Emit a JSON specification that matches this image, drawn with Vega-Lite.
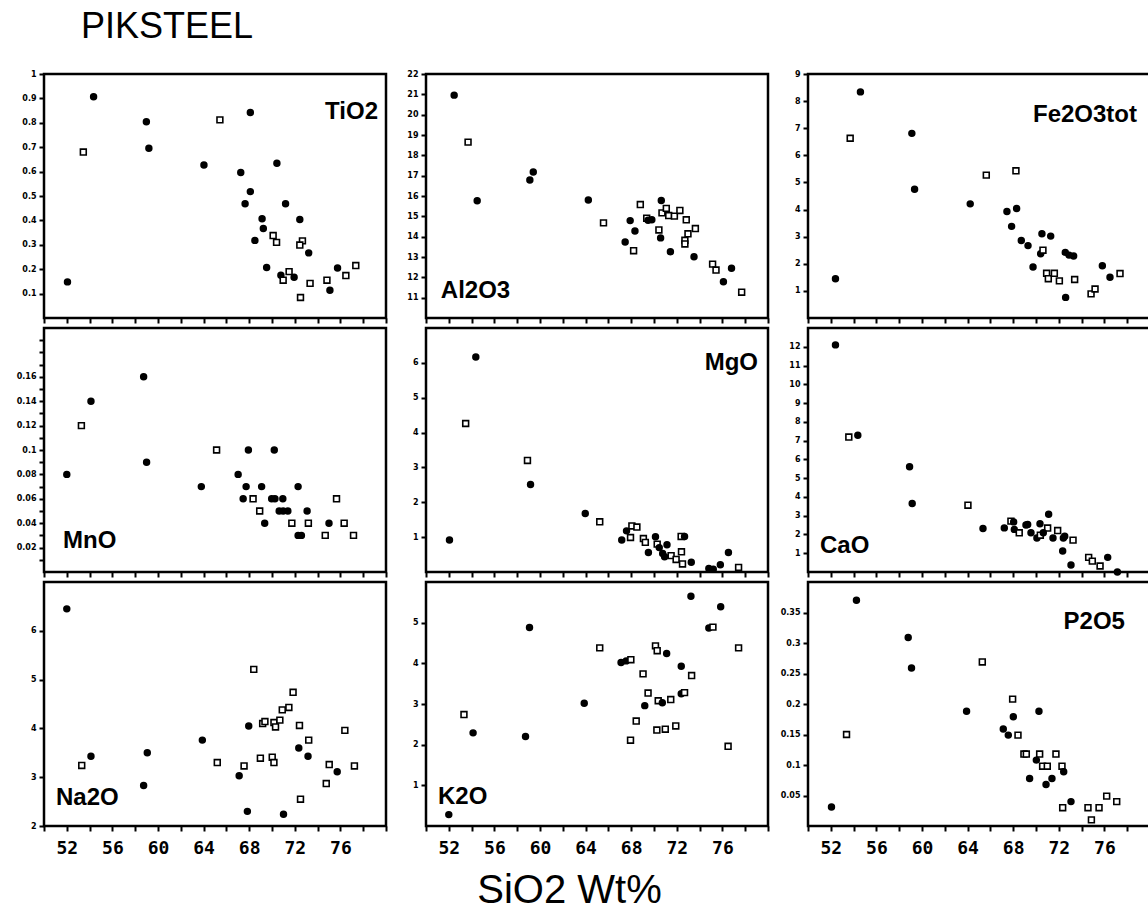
{
  "$schema": "https://vega.github.io/schema/vega-lite/v6.json",
  "background": "white",
  "padding": {"left": 15, "top": 7, "right": 0, "bottom": 0},
  "datasets": {
    "TiO2": [
      {"SiO2":52.06,"wt":0.148,"sym":"f"},{"SiO2":53.45,"wt":0.68,"sym":"o"},{"SiO2":54.35,"wt":0.907,"sym":"f"},{"SiO2":58.98,"wt":0.804,"sym":"f"},{"SiO2":59.2,"wt":0.696,"sym":"f"},{"SiO2":64.03,"wt":0.627,"sym":"f"},{"SiO2":65.43,"wt":0.812,"sym":"o"},{"SiO2":68.1,"wt":0.842,"sym":"f"},{"SiO2":67.26,"wt":0.596,"sym":"f"},{"SiO2":68.1,"wt":0.518,"sym":"f"},{"SiO2":67.64,"wt":0.468,"sym":"f"},{"SiO2":70.43,"wt":0.634,"sym":"f"},{"SiO2":71.19,"wt":0.468,"sym":"f"},{"SiO2":69.13,"wt":0.407,"sym":"f"},{"SiO2":69.24,"wt":0.367,"sym":"f"},{"SiO2":68.5,"wt":0.318,"sym":"f"},{"SiO2":70.1,"wt":0.338,"sym":"o"},{"SiO2":70.4,"wt":0.31,"sym":"o"},{"SiO2":69.53,"wt":0.207,"sym":"f"},{"SiO2":72.44,"wt":0.404,"sym":"f"},{"SiO2":72.67,"wt":0.316,"sym":"o"},{"SiO2":72.44,"wt":0.299,"sym":"o"},{"SiO2":73.22,"wt":0.267,"sym":"f"},{"SiO2":70.78,"wt":0.175,"sym":"f"},{"SiO2":70.98,"wt":0.155,"sym":"o"},{"SiO2":71.5,"wt":0.19,"sym":"o"},{"SiO2":71.94,"wt":0.167,"sym":"f"},{"SiO2":72.5,"wt":0.084,"sym":"o"},{"SiO2":73.34,"wt":0.142,"sym":"o"},{"SiO2":74.82,"wt":0.155,"sym":"o"},{"SiO2":75.08,"wt":0.114,"sym":"f"},{"SiO2":75.75,"wt":0.205,"sym":"f"},{"SiO2":76.48,"wt":0.174,"sym":"o"},{"SiO2":77.35,"wt":0.215,"sym":"o"}
    ],
    "Al2O3": [
      {"SiO2":52.47,"wt":20.96,"sym":"f"},{"SiO2":53.69,"wt":18.65,"sym":"o"},{"SiO2":54.49,"wt":15.77,"sym":"f"},{"SiO2":59.11,"wt":16.79,"sym":"f"},{"SiO2":59.41,"wt":17.18,"sym":"f"},{"SiO2":64.24,"wt":15.8,"sym":"f"},{"SiO2":65.57,"wt":14.68,"sym":"o"},{"SiO2":68.8,"wt":15.58,"sym":"o"},{"SiO2":70.64,"wt":15.78,"sym":"f"},{"SiO2":67.91,"wt":14.79,"sym":"f"},{"SiO2":68.33,"wt":14.28,"sym":"f"},{"SiO2":67.47,"wt":13.74,"sym":"f"},{"SiO2":68.21,"wt":13.31,"sym":"o"},{"SiO2":69.36,"wt":14.91,"sym":"o"},{"SiO2":69.48,"wt":14.81,"sym":"f"},{"SiO2":69.81,"wt":14.83,"sym":"f"},{"SiO2":70.7,"wt":15.17,"sym":"o"},{"SiO2":71.08,"wt":15.39,"sym":"o"},{"SiO2":71.29,"wt":15.04,"sym":"o"},{"SiO2":71.79,"wt":15.01,"sym":"o"},{"SiO2":72.27,"wt":15.29,"sym":"o"},{"SiO2":72.83,"wt":14.83,"sym":"o"},{"SiO2":70.43,"wt":14.33,"sym":"o"},{"SiO2":70.58,"wt":13.94,"sym":"f"},{"SiO2":71.44,"wt":13.26,"sym":"f"},{"SiO2":72.98,"wt":14.14,"sym":"o"},{"SiO2":72.71,"wt":13.82,"sym":"o"},{"SiO2":72.71,"wt":13.64,"sym":"o"},{"SiO2":73.63,"wt":14.4,"sym":"o"},{"SiO2":73.51,"wt":13.01,"sym":"f"},{"SiO2":75.14,"wt":12.65,"sym":"o"},{"SiO2":75.44,"wt":12.36,"sym":"o"},{"SiO2":76.8,"wt":12.45,"sym":"f"},{"SiO2":76.09,"wt":11.78,"sym":"f"},{"SiO2":77.69,"wt":11.27,"sym":"o"}
    ],
    "Fe2O3tot": [
      {"SiO2":52.41,"wt":1.45,"sym":"f"},{"SiO2":53.7,"wt":6.63,"sym":"o"},{"SiO2":54.6,"wt":8.34,"sym":"f"},{"SiO2":59.11,"wt":6.81,"sym":"f"},{"SiO2":59.35,"wt":4.75,"sym":"f"},{"SiO2":64.23,"wt":4.21,"sym":"f"},{"SiO2":65.64,"wt":5.27,"sym":"o"},{"SiO2":68.24,"wt":5.43,"sym":"o"},{"SiO2":67.45,"wt":3.93,"sym":"f"},{"SiO2":68.3,"wt":4.04,"sym":"f"},{"SiO2":67.86,"wt":3.38,"sym":"f"},{"SiO2":68.71,"wt":2.86,"sym":"f"},{"SiO2":69.3,"wt":2.67,"sym":"f"},{"SiO2":70.52,"wt":3.11,"sym":"f"},{"SiO2":71.29,"wt":3.02,"sym":"f"},{"SiO2":70.41,"wt":2.37,"sym":"f"},{"SiO2":70.61,"wt":2.5,"sym":"o"},{"SiO2":69.74,"wt":1.88,"sym":"f"},{"SiO2":70.93,"wt":1.65,"sym":"o"},{"SiO2":71.08,"wt":1.45,"sym":"o"},{"SiO2":71.61,"wt":1.65,"sym":"o"},{"SiO2":72.05,"wt":1.37,"sym":"o"},{"SiO2":72.57,"wt":2.42,"sym":"f"},{"SiO2":72.9,"wt":2.32,"sym":"f"},{"SiO2":73.3,"wt":2.29,"sym":"f"},{"SiO2":73.39,"wt":1.42,"sym":"o"},{"SiO2":72.6,"wt":0.76,"sym":"f"},{"SiO2":74.83,"wt":0.89,"sym":"o"},{"SiO2":75.18,"wt":1.07,"sym":"o"},{"SiO2":75.82,"wt":1.93,"sym":"f"},{"SiO2":76.49,"wt":1.5,"sym":"f"},{"SiO2":77.37,"wt":1.64,"sym":"o"}
    ],
    "MnO": [
      {"SiO2":52.0,"wt":0.08,"sym":"f"},{"SiO2":53.28,"wt":0.12,"sym":"o"},{"SiO2":54.12,"wt":0.14,"sym":"f"},{"SiO2":58.74,"wt":0.16,"sym":"f"},{"SiO2":59.0,"wt":0.09,"sym":"f"},{"SiO2":63.8,"wt":0.07,"sym":"f"},{"SiO2":65.14,"wt":0.1,"sym":"o"},{"SiO2":67.93,"wt":0.1,"sym":"f"},{"SiO2":70.2,"wt":0.1,"sym":"f"},{"SiO2":67.03,"wt":0.08,"sym":"f"},{"SiO2":67.73,"wt":0.07,"sym":"f"},{"SiO2":69.09,"wt":0.07,"sym":"f"},{"SiO2":72.29,"wt":0.07,"sym":"f"},{"SiO2":67.47,"wt":0.06,"sym":"f"},{"SiO2":68.34,"wt":0.06,"sym":"o"},{"SiO2":69.97,"wt":0.06,"sym":"f"},{"SiO2":70.26,"wt":0.06,"sym":"f"},{"SiO2":70.95,"wt":0.06,"sym":"f"},{"SiO2":75.66,"wt":0.06,"sym":"o"},{"SiO2":68.92,"wt":0.05,"sym":"o"},{"SiO2":70.63,"wt":0.05,"sym":"f"},{"SiO2":70.98,"wt":0.05,"sym":"f"},{"SiO2":71.39,"wt":0.05,"sym":"f"},{"SiO2":73.08,"wt":0.05,"sym":"f"},{"SiO2":69.36,"wt":0.04,"sym":"f"},{"SiO2":71.74,"wt":0.04,"sym":"o"},{"SiO2":73.19,"wt":0.04,"sym":"o"},{"SiO2":75.0,"wt":0.04,"sym":"f"},{"SiO2":76.33,"wt":0.04,"sym":"o"},{"SiO2":72.29,"wt":0.03,"sym":"f"},{"SiO2":72.58,"wt":0.03,"sym":"f"},{"SiO2":74.67,"wt":0.03,"sym":"o"},{"SiO2":77.15,"wt":0.03,"sym":"o"}
    ],
    "MgO": [
      {"SiO2":52.06,"wt":0.92,"sym":"f"},{"SiO2":53.48,"wt":4.26,"sym":"o"},{"SiO2":54.37,"wt":6.17,"sym":"f"},{"SiO2":58.9,"wt":3.2,"sym":"o"},{"SiO2":59.17,"wt":2.51,"sym":"f"},{"SiO2":63.97,"wt":1.68,"sym":"f"},{"SiO2":65.24,"wt":1.44,"sym":"o"},{"SiO2":67.17,"wt":0.92,"sym":"f"},{"SiO2":67.59,"wt":1.18,"sym":"f"},{"SiO2":67.94,"wt":0.99,"sym":"o"},{"SiO2":68.06,"wt":1.32,"sym":"o"},{"SiO2":68.5,"wt":1.29,"sym":"o"},{"SiO2":69.07,"wt":0.96,"sym":"o"},{"SiO2":69.24,"wt":0.85,"sym":"o"},{"SiO2":69.51,"wt":0.56,"sym":"f"},{"SiO2":70.13,"wt":1.01,"sym":"f"},{"SiO2":70.28,"wt":0.8,"sym":"o"},{"SiO2":70.46,"wt":0.7,"sym":"f"},{"SiO2":70.76,"wt":0.53,"sym":"f"},{"SiO2":70.93,"wt":0.44,"sym":"f"},{"SiO2":71.14,"wt":0.78,"sym":"f"},{"SiO2":71.5,"wt":0.47,"sym":"o"},{"SiO2":71.94,"wt":0.36,"sym":"o"},{"SiO2":72.38,"wt":1.02,"sym":"o"},{"SiO2":72.68,"wt":1.02,"sym":"f"},{"SiO2":72.41,"wt":0.58,"sym":"o"},{"SiO2":72.5,"wt":0.23,"sym":"o"},{"SiO2":73.27,"wt":0.28,"sym":"f"},{"SiO2":74.81,"wt":0.1,"sym":"f"},{"SiO2":75.2,"wt":0.08,"sym":"f"},{"SiO2":75.82,"wt":0.21,"sym":"f"},{"SiO2":76.53,"wt":0.56,"sym":"f"},{"SiO2":77.42,"wt":0.13,"sym":"o"}
    ],
    "CaO": [
      {"SiO2":52.41,"wt":12.1,"sym":"f"},{"SiO2":53.58,"wt":7.19,"sym":"o"},{"SiO2":54.37,"wt":7.29,"sym":"f"},{"SiO2":58.91,"wt":5.61,"sym":"f"},{"SiO2":59.14,"wt":3.65,"sym":"f"},{"SiO2":64.03,"wt":3.56,"sym":"o"},{"SiO2":65.35,"wt":2.32,"sym":"f"},{"SiO2":67.22,"wt":2.35,"sym":"f"},{"SiO2":67.8,"wt":2.71,"sym":"o"},{"SiO2":68.04,"wt":2.67,"sym":"f"},{"SiO2":68.1,"wt":2.27,"sym":"f"},{"SiO2":68.53,"wt":2.09,"sym":"o"},{"SiO2":69.12,"wt":2.5,"sym":"f"},{"SiO2":69.27,"wt":2.53,"sym":"f"},{"SiO2":69.56,"wt":2.09,"sym":"f"},{"SiO2":70.35,"wt":2.57,"sym":"f"},{"SiO2":71.11,"wt":3.08,"sym":"f"},{"SiO2":71.02,"wt":2.34,"sym":"o"},{"SiO2":70.08,"wt":1.81,"sym":"f"},{"SiO2":70.38,"wt":1.96,"sym":"o"},{"SiO2":70.64,"wt":2.09,"sym":"f"},{"SiO2":71.49,"wt":1.81,"sym":"f"},{"SiO2":71.9,"wt":2.21,"sym":"o"},{"SiO2":72.4,"wt":1.81,"sym":"f"},{"SiO2":72.52,"wt":1.91,"sym":"f"},{"SiO2":73.25,"wt":1.7,"sym":"o"},{"SiO2":72.34,"wt":1.12,"sym":"f"},{"SiO2":73.07,"wt":0.37,"sym":"f"},{"SiO2":74.62,"wt":0.78,"sym":"o"},{"SiO2":74.94,"wt":0.58,"sym":"o"},{"SiO2":75.62,"wt":0.32,"sym":"o"},{"SiO2":76.29,"wt":0.78,"sym":"f"},{"SiO2":77.14,"wt":0.0,"sym":"f"}
    ],
    "Na2O": [
      {"SiO2":52.0,"wt":6.45,"sym":"f"},{"SiO2":53.31,"wt":3.24,"sym":"o"},{"SiO2":54.12,"wt":3.43,"sym":"f"},{"SiO2":58.74,"wt":2.83,"sym":"f"},{"SiO2":59.06,"wt":3.5,"sym":"f"},{"SiO2":63.89,"wt":3.76,"sym":"f"},{"SiO2":65.2,"wt":3.3,"sym":"o"},{"SiO2":67.12,"wt":3.03,"sym":"f"},{"SiO2":67.55,"wt":3.23,"sym":"o"},{"SiO2":67.84,"wt":2.3,"sym":"f"},{"SiO2":67.96,"wt":4.05,"sym":"f"},{"SiO2":68.4,"wt":5.21,"sym":"o"},{"SiO2":68.98,"wt":3.39,"sym":"o"},{"SiO2":69.18,"wt":4.1,"sym":"o"},{"SiO2":69.38,"wt":4.14,"sym":"o"},{"SiO2":70.02,"wt":3.41,"sym":"o"},{"SiO2":70.17,"wt":3.3,"sym":"o"},{"SiO2":70.17,"wt":4.12,"sym":"o"},{"SiO2":70.31,"wt":4.03,"sym":"o"},{"SiO2":70.69,"wt":4.17,"sym":"o"},{"SiO2":70.9,"wt":4.38,"sym":"o"},{"SiO2":71.48,"wt":4.43,"sym":"o"},{"SiO2":71.85,"wt":4.74,"sym":"o"},{"SiO2":71.01,"wt":2.24,"sym":"f"},{"SiO2":72.41,"wt":4.06,"sym":"o"},{"SiO2":72.35,"wt":3.6,"sym":"f"},{"SiO2":72.5,"wt":2.55,"sym":"o"},{"SiO2":73.22,"wt":3.76,"sym":"o"},{"SiO2":73.16,"wt":3.43,"sym":"f"},{"SiO2":74.76,"wt":2.87,"sym":"o"},{"SiO2":75.02,"wt":3.26,"sym":"o"},{"SiO2":75.72,"wt":3.11,"sym":"f"},{"SiO2":76.39,"wt":3.96,"sym":"o"},{"SiO2":77.23,"wt":3.23,"sym":"o"}
    ],
    "K2O": [
      {"SiO2":52.0,"wt":0.28,"sym":"f"},{"SiO2":53.33,"wt":2.74,"sym":"o"},{"SiO2":54.13,"wt":2.29,"sym":"f"},{"SiO2":58.73,"wt":2.2,"sym":"f"},{"SiO2":59.08,"wt":4.88,"sym":"f"},{"SiO2":63.88,"wt":3.02,"sym":"f"},{"SiO2":65.24,"wt":4.38,"sym":"o"},{"SiO2":67.11,"wt":4.02,"sym":"f"},{"SiO2":67.56,"wt":4.06,"sym":"f"},{"SiO2":67.97,"wt":4.09,"sym":"o"},{"SiO2":67.94,"wt":2.11,"sym":"o"},{"SiO2":68.44,"wt":2.58,"sym":"o"},{"SiO2":69.04,"wt":3.74,"sym":"o"},{"SiO2":69.19,"wt":2.96,"sym":"f"},{"SiO2":69.48,"wt":3.27,"sym":"o"},{"SiO2":70.13,"wt":4.43,"sym":"o"},{"SiO2":70.28,"wt":4.31,"sym":"o"},{"SiO2":70.25,"wt":2.36,"sym":"o"},{"SiO2":70.37,"wt":3.08,"sym":"o"},{"SiO2":70.73,"wt":3.03,"sym":"f"},{"SiO2":70.99,"wt":2.38,"sym":"o"},{"SiO2":71.11,"wt":4.24,"sym":"f"},{"SiO2":71.47,"wt":3.11,"sym":"o"},{"SiO2":71.91,"wt":2.46,"sym":"o"},{"SiO2":72.39,"wt":3.93,"sym":"f"},{"SiO2":72.39,"wt":3.25,"sym":"f"},{"SiO2":72.68,"wt":3.28,"sym":"o"},{"SiO2":73.3,"wt":3.7,"sym":"o"},{"SiO2":73.24,"wt":5.65,"sym":"f"},{"SiO2":74.81,"wt":4.87,"sym":"f"},{"SiO2":75.17,"wt":4.89,"sym":"o"},{"SiO2":75.85,"wt":5.39,"sym":"f"},{"SiO2":76.5,"wt":1.96,"sym":"o"},{"SiO2":77.42,"wt":4.38,"sym":"o"}
    ],
    "P2O5": [
      {"SiO2":52.06,"wt":0.031,"sym":"f"},{"SiO2":53.38,"wt":0.15,"sym":"o"},{"SiO2":54.25,"wt":0.37,"sym":"f"},{"SiO2":58.79,"wt":0.309,"sym":"f"},{"SiO2":59.08,"wt":0.259,"sym":"f"},{"SiO2":65.29,"wt":0.269,"sym":"o"},{"SiO2":63.91,"wt":0.188,"sym":"f"},{"SiO2":67.95,"wt":0.208,"sym":"o"},{"SiO2":68.01,"wt":0.179,"sym":"f"},{"SiO2":67.13,"wt":0.159,"sym":"f"},{"SiO2":67.57,"wt":0.149,"sym":"f"},{"SiO2":68.42,"wt":0.149,"sym":"o"},{"SiO2":70.26,"wt":0.188,"sym":"f"},{"SiO2":68.94,"wt":0.118,"sym":"o"},{"SiO2":69.15,"wt":0.118,"sym":"o"},{"SiO2":70.32,"wt":0.118,"sym":"o"},{"SiO2":71.75,"wt":0.118,"sym":"o"},{"SiO2":70.03,"wt":0.108,"sym":"f"},{"SiO2":70.58,"wt":0.098,"sym":"o"},{"SiO2":70.99,"wt":0.098,"sym":"o"},{"SiO2":72.28,"wt":0.098,"sym":"o"},{"SiO2":72.43,"wt":0.089,"sym":"f"},{"SiO2":69.44,"wt":0.078,"sym":"f"},{"SiO2":71.4,"wt":0.078,"sym":"f"},{"SiO2":70.88,"wt":0.068,"sym":"f"},{"SiO2":76.2,"wt":0.049,"sym":"o"},{"SiO2":73.07,"wt":0.04,"sym":"f"},{"SiO2":77.08,"wt":0.04,"sym":"o"},{"SiO2":72.34,"wt":0.03,"sym":"o"},{"SiO2":74.56,"wt":0.03,"sym":"o"},{"SiO2":75.53,"wt":0.03,"sym":"o"},{"SiO2":74.86,"wt":0.01,"sym":"o"}
    ]
  },
  "config": {
    "view": {"stroke": "black", "strokeWidth": 2.5},
    "axis": {"grid": false, "domain": false, "ticks": true, "tickColor": "black", "tickWidth": 2, "tickSize": 5, "labelColor": "black", "title": null, "labelOverlap": false, "labelFlush": false, "tickCount": 100},
    "axisY": {"labelFont": "DejaVu Sans", "labelFontWeight": "bold", "labelFontSize": 8, "labelPadding": 3},
    "axisX": {"labelFont": "DejaVu Sans Mono", "labelFontWeight": "bold", "labelFontSize": 18, "labelPadding": 8},
    "text": {"font": "Liberation Sans", "fontWeight": "bold", "fontSize": 24, "color": "black", "baseline": "alphabetic"}
  },
  "columns": 3,
  "spacing": {"row": 10, "column": 40},
  "bounds": "flush",
  "resolve": {"scale": {"x": "independent", "y": "independent", "shape": "independent", "fill": "independent"}},
  "concat": [
    {
      "width": 342, "height": 244,
      "title": {"text": "PIKSTEEL", "anchor": "start", "frame": "group", "dx": 37, "offset": -4, "fontSize": 36, "font": "Liberation Sans", "fontWeight": "normal", "color": "black", "baseline": "alphabetic"},
      "layer": [
        {"data": {"name": "TiO2"}, "mark": {"type": "point", "filled": true, "size": 34, "strokeWidth": 1.6, "opacity": 1},
         "encoding": {
           "x": {"field": "SiO2", "type": "quantitative", "scale": {"domain": [50, 80], "nice": false, "zero": false}, "axis": {"tickCount": 100, "values": [50,52,54,56,58,60,62,64,66,68,70,72,74,76,78,80], "labels": false}},
           "y": {"field": "wt", "type": "quantitative", "scale": {"domain": [0, 1], "nice": false}, "axis": {"tickCount": 100, "format": "~g", "values": [0.1,0.2,0.3,0.4,0.5,0.6,0.7,0.8,0.9,1.0]}},
           "shape": {"field": "sym", "type": "nominal", "scale": {"domain": ["f","o"], "range": ["circle","square"]}, "legend": null},
           "fill": {"field": "sym", "type": "nominal", "scale": {"domain": ["f","o"], "range": ["black","white"]}, "legend": null},
           "stroke": {"value": "black"}
         }},
        {"data": {"values": [{"label": "TiO2"}]}, "mark": {"type": "text", "align": "right"},
         "encoding": {"x": {"datum": 79.3, "type": "quantitative"}, "y": {"datum": 0.816, "type": "quantitative"}, "text": {"field": "label"}}}
      ]
    },
    {
      "width": 342, "height": 244,
      "layer": [
        {"data": {"name": "Al2O3"}, "mark": {"type": "point", "filled": true, "size": 34, "strokeWidth": 1.6, "opacity": 1},
         "encoding": {
           "x": {"field": "SiO2", "type": "quantitative", "scale": {"domain": [50, 80], "nice": false, "zero": false}, "axis": {"tickCount": 100, "values": [50,52,54,56,58,60,62,64,66,68,70,72,74,76,78,80], "labels": false}},
           "y": {"field": "wt", "type": "quantitative", "scale": {"domain": [10, 22], "nice": false, "zero": false}, "axis": {"tickCount": 100, "format": "~g", "values": [11,12,13,14,15,16,17,18,19,20,21,22]}},
           "shape": {"field": "sym", "type": "nominal", "scale": {"domain": ["f","o"], "range": ["circle","square"]}, "legend": null},
           "fill": {"field": "sym", "type": "nominal", "scale": {"domain": ["f","o"], "range": ["black","white"]}, "legend": null},
           "stroke": {"value": "black"}
         }},
        {"data": {"values": [{"label": "Al2O3"}]}, "mark": {"type": "text", "align": "left"},
         "encoding": {"x": {"datum": 51.3, "type": "quantitative"}, "y": {"datum": 10.98, "type": "quantitative"}, "text": {"field": "label"}}}
      ]
    },
    {
      "width": 342, "height": 244,
      "layer": [
        {"data": {"name": "Fe2O3tot"}, "mark": {"type": "point", "filled": true, "size": 34, "strokeWidth": 1.6, "opacity": 1},
         "encoding": {
           "x": {"field": "SiO2", "type": "quantitative", "scale": {"domain": [50, 80], "nice": false, "zero": false}, "axis": {"tickCount": 100, "values": [50,52,54,56,58,60,62,64,66,68,70,72,74,76,78,80], "labels": false}},
           "y": {"field": "wt", "type": "quantitative", "scale": {"domain": [0, 9], "nice": false}, "axis": {"tickCount": 100, "format": "~g", "values": [1,2,3,4,5,6,7,8,9]}},
           "shape": {"field": "sym", "type": "nominal", "scale": {"domain": ["f","o"], "range": ["circle","square"]}, "legend": null},
           "fill": {"field": "sym", "type": "nominal", "scale": {"domain": ["f","o"], "range": ["black","white"]}, "legend": null},
           "stroke": {"value": "black"}
         }},
        {"data": {"values": [{"label": "Fe2O3tot"}]}, "mark": {"type": "text", "align": "right"},
         "encoding": {"x": {"datum": 78.86, "type": "quantitative"}, "y": {"datum": 7.23, "type": "quantitative"}, "text": {"field": "label"}}}
      ]
    },
    {
      "width": 342, "height": 244,
      "layer": [
        {"data": {"name": "MnO"}, "mark": {"type": "point", "filled": true, "size": 34, "strokeWidth": 1.6, "opacity": 1},
         "encoding": {
           "x": {"field": "SiO2", "type": "quantitative", "scale": {"domain": [50, 80], "nice": false, "zero": false}, "axis": {"tickCount": 100, "values": [50,52,54,56,58,60,62,64,66,68,70,72,74,76,78,80], "labels": false}},
           "y": {"field": "wt", "type": "quantitative", "scale": {"domain": [0, 0.2], "nice": false}, "axis": {"tickCount": 100, "values": [0.01,0.02,0.03,0.04,0.05,0.06,0.07,0.08,0.09,0.1,0.11,0.12,0.13,0.14,0.15,0.16,0.17,0.18,0.19], "labelExpr": "(round(datum.value*100) % 2 == 0 && datum.value < 0.17) ? format(datum.value, '~g') : ''"}},
           "shape": {"field": "sym", "type": "nominal", "scale": {"domain": ["f","o"], "range": ["circle","square"]}, "legend": null},
           "fill": {"field": "sym", "type": "nominal", "scale": {"domain": ["f","o"], "range": ["black","white"]}, "legend": null},
           "stroke": {"value": "black"}
         }},
        {"data": {"values": [{"label": "MnO"}]}, "mark": {"type": "text", "align": "left"},
         "encoding": {"x": {"datum": 51.67, "type": "quantitative"}, "y": {"datum": 0.0197, "type": "quantitative"}, "text": {"field": "label"}}}
      ]
    },
    {
      "width": 342, "height": 244,
      "layer": [
        {"data": {"name": "MgO"}, "mark": {"type": "point", "filled": true, "size": 34, "strokeWidth": 1.6, "opacity": 1},
         "encoding": {
           "x": {"field": "SiO2", "type": "quantitative", "scale": {"domain": [50, 80], "nice": false, "zero": false}, "axis": {"tickCount": 100, "values": [50,52,54,56,58,60,62,64,66,68,70,72,74,76,78,80], "labels": false}},
           "y": {"field": "wt", "type": "quantitative", "scale": {"domain": [0, 7], "nice": false}, "axis": {"tickCount": 100, "format": "~g", "values": [1,2,3,4,5,6]}},
           "shape": {"field": "sym", "type": "nominal", "scale": {"domain": ["f","o"], "range": ["circle","square"]}, "legend": null},
           "fill": {"field": "sym", "type": "nominal", "scale": {"domain": ["f","o"], "range": ["black","white"]}, "legend": null},
           "stroke": {"value": "black"}
         }},
        {"data": {"values": [{"label": "MgO"}]}, "mark": {"type": "text", "align": "right"},
         "encoding": {"x": {"datum": 79.12, "type": "quantitative"}, "y": {"datum": 5.8, "type": "quantitative"}, "text": {"field": "label"}}}
      ]
    },
    {
      "width": 342, "height": 244,
      "layer": [
        {"data": {"name": "CaO"}, "mark": {"type": "point", "filled": true, "size": 34, "strokeWidth": 1.6, "opacity": 1},
         "encoding": {
           "x": {"field": "SiO2", "type": "quantitative", "scale": {"domain": [50, 80], "nice": false, "zero": false}, "axis": {"tickCount": 100, "values": [50,52,54,56,58,60,62,64,66,68,70,72,74,76,78,80], "labels": false}},
           "y": {"field": "wt", "type": "quantitative", "scale": {"domain": [0, 13], "nice": false}, "axis": {"tickCount": 100, "format": "~g", "values": [1,2,3,4,5,6,7,8,9,10,11,12]}},
           "shape": {"field": "sym", "type": "nominal", "scale": {"domain": ["f","o"], "range": ["circle","square"]}, "legend": null},
           "fill": {"field": "sym", "type": "nominal", "scale": {"domain": ["f","o"], "range": ["black","white"]}, "legend": null},
           "stroke": {"value": "black"}
         }},
        {"data": {"values": [{"label": "CaO"}]}, "mark": {"type": "text", "align": "left"},
         "encoding": {"x": {"datum": 51.05, "type": "quantitative"}, "y": {"datum": 1.01, "type": "quantitative"}, "text": {"field": "label"}}}
      ]
    },
    {
      "width": 342, "height": 244,
      "layer": [
        {"data": {"name": "Na2O"}, "mark": {"type": "point", "filled": true, "size": 34, "strokeWidth": 1.6, "opacity": 1},
         "encoding": {
           "x": {"field": "SiO2", "type": "quantitative", "scale": {"domain": [50, 80], "nice": false, "zero": false}, "axis": {"tickCount": 100, "values": [50,52,54,56,58,60,62,64,66,68,70,72,74,76,78,80], "labelExpr": "(datum.value - 52) % 4 == 0 && datum.value <= 76 ? format(datum.value, 'd') : ''"}},
           "y": {"field": "wt", "type": "quantitative", "scale": {"domain": [2, 7], "nice": false, "zero": false}, "axis": {"tickCount": 100, "format": "~g", "values": [2,3,4,5,6]}},
           "shape": {"field": "sym", "type": "nominal", "scale": {"domain": ["f","o"], "range": ["circle","square"]}, "legend": null},
           "fill": {"field": "sym", "type": "nominal", "scale": {"domain": ["f","o"], "range": ["black","white"]}, "legend": null},
           "stroke": {"value": "black"}
         }},
        {"data": {"values": [{"label": "Na2O"}]}, "mark": {"type": "text", "align": "left"},
         "encoding": {"x": {"datum": 51.05, "type": "quantitative"}, "y": {"datum": 2.43, "type": "quantitative"}, "text": {"field": "label"}}}
      ]
    },
    {
      "width": 342, "height": 244,
      "layer": [
        {"data": {"name": "K2O"}, "mark": {"type": "point", "filled": true, "size": 34, "strokeWidth": 1.6, "opacity": 1},
         "encoding": {
           "x": {"field": "SiO2", "type": "quantitative", "scale": {"domain": [50, 80], "nice": false, "zero": false}, "axis": {"tickCount": 100, "values": [50,52,54,56,58,60,62,64,66,68,70,72,74,76,78,80], "labelExpr": "(datum.value - 52) % 4 == 0 && datum.value <= 76 ? format(datum.value, 'd') : ''", "title": "SiO2 Wt%", "titleFont": "Liberation Sans", "titleFontSize": 40, "titleFontWeight": "normal", "titleColor": "black", "titleX": 143, "titleY": 76, "titleAlign": "center", "titleBaseline": "alphabetic"}},
           "y": {"field": "wt", "type": "quantitative", "scale": {"domain": [0, 6], "nice": false}, "axis": {"tickCount": 100, "format": "~g", "values": [1,2,3,4,5]}},
           "shape": {"field": "sym", "type": "nominal", "scale": {"domain": ["f","o"], "range": ["circle","square"]}, "legend": null},
           "fill": {"field": "sym", "type": "nominal", "scale": {"domain": ["f","o"], "range": ["black","white"]}, "legend": null},
           "stroke": {"value": "black"}
         }},
        {"data": {"values": [{"label": "K2O"}]}, "mark": {"type": "text", "align": "left"},
         "encoding": {"x": {"datum": 51.05, "type": "quantitative"}, "y": {"datum": 0.54, "type": "quantitative"}, "text": {"field": "label"}}}
      ]
    },
    {
      "width": 342, "height": 244,
      "layer": [
        {"data": {"name": "P2O5"}, "mark": {"type": "point", "filled": true, "size": 34, "strokeWidth": 1.6, "opacity": 1},
         "encoding": {
           "x": {"field": "SiO2", "type": "quantitative", "scale": {"domain": [50, 80], "nice": false, "zero": false}, "axis": {"tickCount": 100, "values": [50,52,54,56,58,60,62,64,66,68,70,72,74,76,78,80], "labelExpr": "(datum.value - 52) % 4 == 0 && datum.value <= 76 ? format(datum.value, 'd') : ''"}},
           "y": {"field": "wt", "type": "quantitative", "scale": {"domain": [0, 0.4], "nice": false}, "axis": {"tickCount": 100, "format": "~g", "values": [0.05,0.1,0.15,0.2,0.25,0.3,0.35]}},
           "shape": {"field": "sym", "type": "nominal", "scale": {"domain": ["f","o"], "range": ["circle","square"]}, "legend": null},
           "fill": {"field": "sym", "type": "nominal", "scale": {"domain": ["f","o"], "range": ["black","white"]}, "legend": null},
           "stroke": {"value": "black"}
         }},
        {"data": {"values": [{"label": "P2O5"}]}, "mark": {"type": "text", "align": "right"},
         "encoding": {"x": {"datum": 77.8, "type": "quantitative"}, "y": {"datum": 0.323, "type": "quantitative"}, "text": {"field": "label"}}}
      ]
    }
  ]
}
